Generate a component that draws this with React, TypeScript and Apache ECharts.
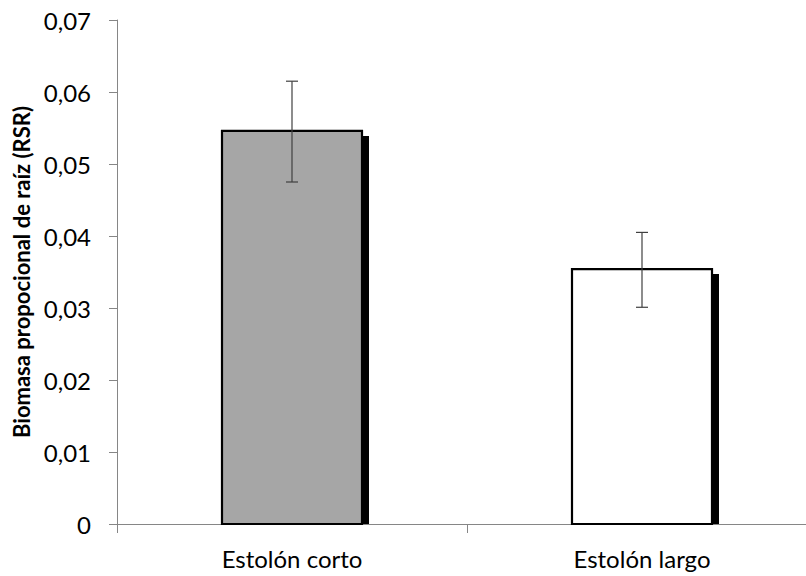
import React, { useEffect, useRef } from "react";
import * as echarts from "echarts";

const categories = ["Estolón corto", "Estolón largo"];
const means = [0.0546, 0.0354];
const errLow = [0.0475, 0.0301];
const errHigh = [0.0615, 0.0405];
const barFills = ["#a6a6a6", "#ffffff"];

const FONT = "Lato, 'Open Sans', sans-serif";

export default function App() {
  const ref = useRef<HTMLDivElement>(null);
  useEffect(() => {
    if (!ref.current) return;
    const chart = echarts.init(ref.current, undefined, { renderer: "svg" });
    const data = categories.map((c, i) => [i, means[i], errLow[i], errHigh[i]]);
    chart.setOption({
      animation: false,
      backgroundColor: "#ffffff",
      grid: { left: 117, top: 20, width: 700, bottom: 52, containLabel: false },
      xAxis: {
        type: "category",
        data: categories,
        axisLine: { show: true, lineStyle: { color: "#868686", width: 1 } },
        axisTick: { show: true, length: 9, lineStyle: { color: "#868686" } },
        axisLabel: { color: "#000", fontSize: 24, fontFamily: FONT, margin: 22 },
        splitLine: { show: false },
      },
      yAxis: {
        type: "value",
        min: 0,
        max: 0.07,
        interval: 0.01,
        name: "Biomasa propocional de raíz (RSR)",
        nameLocation: "middle",
        nameGap: 84,
        nameTextStyle: { color: "#000", fontSize: 22, fontWeight: "bold", fontFamily: FONT },
        axisLine: { show: true, lineStyle: { color: "#868686", width: 1 } },
        axisTick: { show: true, length: 8, lineStyle: { color: "#868686" } },
        axisLabel: {
          color: "#000",
          fontSize: 24,
          fontFamily: FONT,
          margin: 26,
          formatter: (v: number) => (v === 0 ? "0" : v.toFixed(2).replace(".", ",")),
        },
        splitLine: { show: false },
      },
      series: [
        {
          type: "custom",
          data,
          encode: { x: 0, y: 1 },
          renderItem: (params: any, api: any) => {
            const idx = api.value(0);
            const val = api.value(1);
            const lo = api.value(2);
            const hi = api.value(3);
            const band = api.size([1, 0])[0];
            const bw = band * 0.4;
            const top = api.coord([idx, val]);
            const base = api.coord([idx, 0]);
            const pLo = api.coord([idx, lo]);
            const pHi = api.coord([idx, hi]);
            const cx = top[0];
            const left = cx - bw / 2;
            const h = base[1] - top[1];
            const cap = 6;
            return {
              type: "group",
              children: [
                {
                  type: "rect",
                  shape: { x: left + bw + 1, y: top[1] + 5, width: 6, height: h - 5 },
                  style: { fill: "#000" },
                },
                {
                  type: "rect",
                  shape: { x: left, y: top[1], width: bw, height: h },
                  style: { fill: barFills[params.dataIndex], stroke: "#000", lineWidth: 2.2 },
                },
                {
                  type: "line",
                  shape: { x1: cx, y1: pHi[1], x2: cx, y2: pLo[1] },
                  style: { stroke: "#404040", lineWidth: 1.2 },
                },
                {
                  type: "line",
                  shape: { x1: cx - cap, y1: pHi[1], x2: cx + cap, y2: pHi[1] },
                  style: { stroke: "#404040", lineWidth: 1.2 },
                },
                {
                  type: "line",
                  shape: { x1: cx - cap, y1: pLo[1], x2: cx + cap, y2: pLo[1] },
                  style: { stroke: "#404040", lineWidth: 1.2 },
                },
              ],
            };
          },
        },
      ],
    });
    return () => chart.dispose();
  }, []);
  return (
    <div
      style={{
        position: "absolute",
        left: 0,
        top: 0,
        width: 806,
        height: 576,
        overflow: "hidden",
        background: "#fff",
      }}
    >
      <div ref={ref} style={{ width: 830, height: 576 }} />
    </div>
  );
}
